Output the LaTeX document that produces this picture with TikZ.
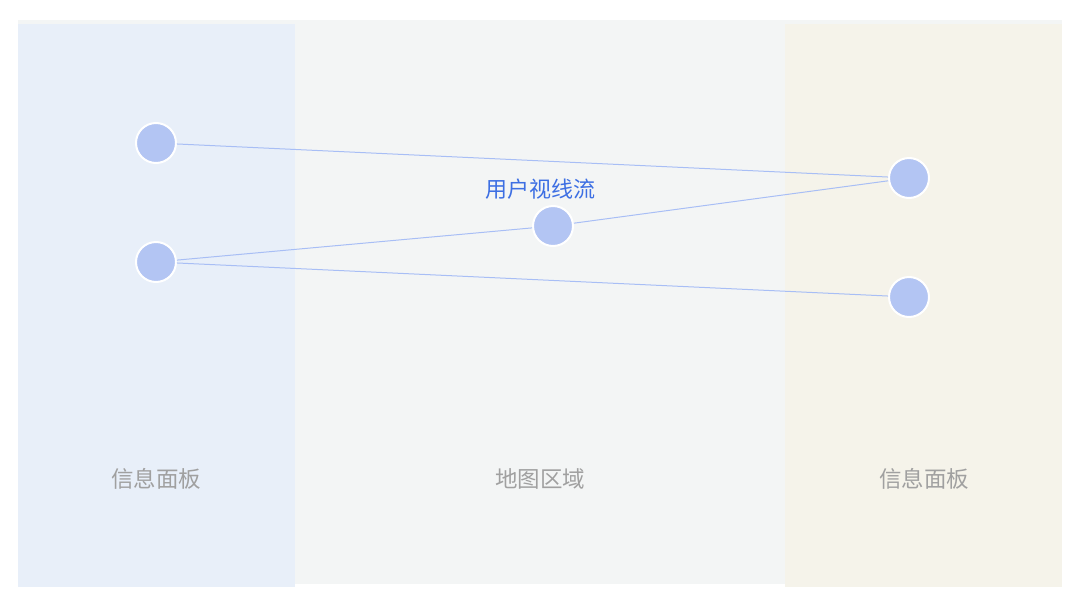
\documentclass[tikz,border=0pt]{standalone}
\usepackage{fontspec}
\setmainfont{Noto Sans CJK SC}
\usetikzlibrary{positioning}
\definecolor{panelblue}{HTML}{E8EFF9}
\definecolor{panelgray}{HTML}{F3F5F5}
\definecolor{panelsand}{HTML}{F5F3EA}
\definecolor{dotfill}{HTML}{B3C5F3}
\definecolor{gazeline}{HTML}{A8BEF5}
\definecolor{gazetext}{HTML}{3D6FE3}
\definecolor{labelgray}{HTML}{A0A0A0}
\tikzset{
  gazedot/.style={circle, fill=dotfill, draw=white, line width=2pt, minimum size=40pt, inner sep=0pt},
  gazeflow/.style={gazeline, line width=1pt},
  panellabel/.style={text=labelgray, font=\fontsize{22.5}{26}\selectfont}
}
\begin{document}
\begin{tikzpicture}[x=1pt, y=-1pt]
    \useasboundingbox (0, 0) rectangle (1080, 608);

    \fill [panelgray] (18, 20) rectangle (1062, 584);
    \fill [panelblue] (18, 24) rectangle (295, 587);
    \fill [panelsand] (785, 24) rectangle (1062, 587);

    \node [panellabel] (leftname) at (156, 479) {信息面板};
    \node [panellabel] (mapname) at (540, 479) {地图区域};
    \node [panellabel] (rightname) at (924, 479) {信息面板};

    \node [gazedot] (leftA) at (156, 143) {};
    \node [gazedot] (leftB) at (156, 262) {};
    \node [gazedot] (mapC) at (553, 226) {};
    \node [gazedot] (rightA) at (909, 178) {};
    \node [gazedot] (rightB) at (909, 297) {};

    \node [text=gazetext, font=\fontsize{22}{26}\selectfont] (flowname) at (540, 189) {用户视线流};

    %the gaze path
    \draw [gazeflow] (leftA) -- (rightA);
    \draw [gazeflow] (leftB) -- (mapC) -- (rightA);
    \draw [gazeflow] (leftB) -- (rightB);
  \end{tikzpicture}
\end{document}
